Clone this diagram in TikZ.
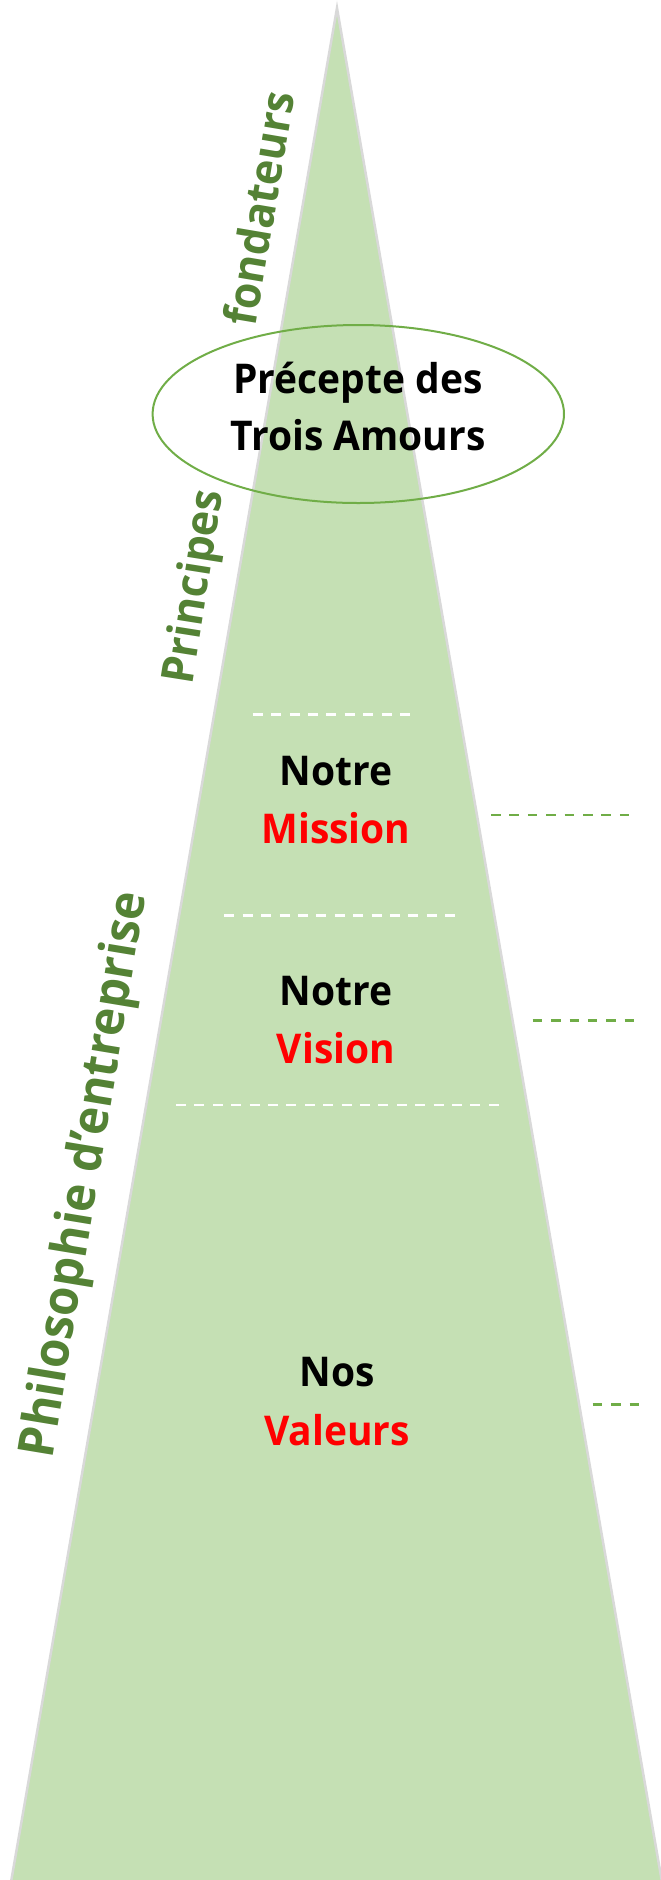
\documentclass[tikz,border=0pt]{standalone}
\usepackage{fontspec}
\setmainfont{Open Sans}[FakeStretch=0.95]
\definecolor{trifill}{HTML}{C5E0B4}
\definecolor{triedge}{HTML}{D9D9D9}
\definecolor{darkgreen}{HTML}{548235}
\definecolor{midgreen}{HTML}{70AD47}
\definecolor{redtxt}{HTML}{FF0000}
\tikzset{
  blacktxt/.style={anchor=base, inner sep=0pt, text=black, font=\bfseries\fontsize{41}{49}\selectfont},
  redword/.style={anchor=base, inner sep=0pt, text=redtxt, font=\bfseries\fontsize{41}{49}\selectfont},
  sidetxt/.style={anchor=base, inner sep=0pt, text=darkgreen, font=\bfseries\fontsize{45}{54}\selectfont},
  whitedash/.style={draw=white, line width=2.8pt, dash pattern=on 10pt off 8.4pt},
  greendash/.style={draw=midgreen, line width=2.8pt, dash pattern=on 9.5pt off 8.9pt},
}
\begin{document}
\begin{tikzpicture}[x=1pt, y=-1pt]
\useasboundingbox (0,0) rectangle (661,1880);
% triangle
\coordinate (apex) at (337,8);
\coordinate (bl) at (11,1882);
\coordinate (br) at (662,1882);
\filldraw[fill=trifill, draw=triedge, line width=2.5pt, line join=miter] (apex) -- (br) -- (bl) -- cycle;

% ellipse
\coordinate (ec) at (358.3,414);
\draw[midgreen, line width=2pt] (ec) ellipse [x radius=205.7pt, y radius=89pt];
\node[blacktxt] (p1) at (358,393.3) {Précepte des};
\node[blacktxt] (p2) at (358,450.7) {Trois Amours};

% white separators
\coordinate (w1a) at (252.7,714.7); \coordinate (w1b) at (411,714.7);
\coordinate (w2a) at (224.3,915.7); \coordinate (w2b) at (456,915.7);
\coordinate (w3a) at (176,1105);    \coordinate (w3b) at (498.5,1105);
\draw[whitedash] (w1a) -- (w1b);
\draw[whitedash] (w2a) -- (w2b);
\draw[whitedash] (w3a) -- (w3b);

% labels in triangle
\node[blacktxt] (n1) at (336,785) {Notre};
\node[redword]  (mi) at (336,843.3) {Mission};
\node[blacktxt] (n2) at (336,1005) {Notre};
\node[redword]  (vi) at (336,1063) {Vision};
\node[blacktxt] (n3) at (337,1386.7) {Nos};
\node[redword]  (va) at (337,1445) {Valeurs};

% green dashes at right
\coordinate (g1a) at (491,815);    \coordinate (g1b) at (631,815);
\coordinate (g2a) at (532.7,1020.3); \coordinate (g2b) at (637,1020.3);
\coordinate (g3a) at (592.7,1404.3); \coordinate (g3b) at (641,1404.3);
\draw[greendash] (g1a) -- (g1b);
\draw[greendash] (g2a) -- (g2b);
\draw[greendash] (g3a) -- (g3b);

% side labels
\node[sidetxt, rotate=80.4] (fo) at (275.5,211) {fondateurs};
\node[sidetxt, rotate=81] (pr) at (207.5,589) {Principes};
\node[sidetxt, rotate=80.6, font=\bfseries\fontsize{50}{60}\selectfont] (ph) at (99,1177) {Philosophie d’entreprise};
\end{tikzpicture}
\end{document}
